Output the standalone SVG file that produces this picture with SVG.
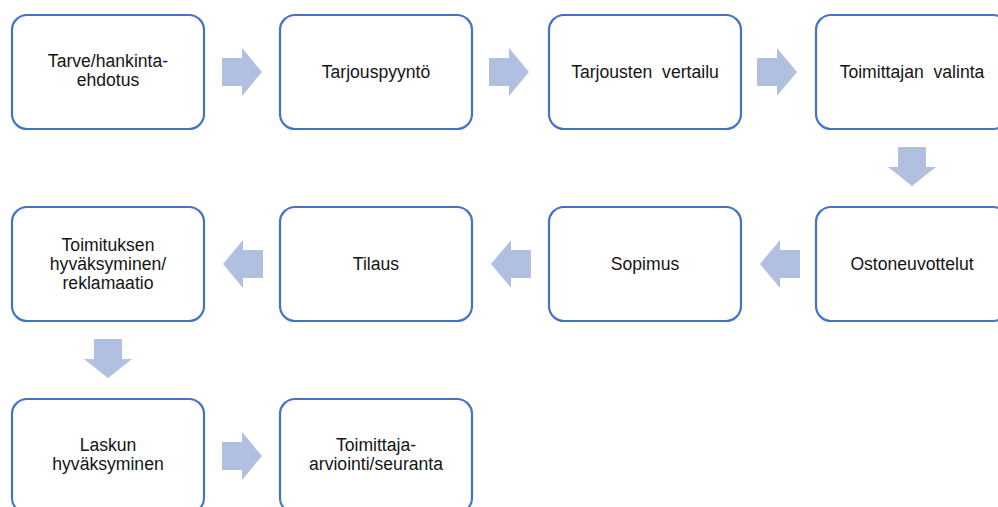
<svg xmlns="http://www.w3.org/2000/svg" width="998" height="507" viewBox="0 0 998 507">
  <defs>
    <style>
      .box { fill: #ffffff; stroke: #4472C4; stroke-width: 2.2; }
      .lbl { font-family: "Liberation Sans", Arial, sans-serif; font-size: 17.6px; fill: #151515; text-anchor: middle; }
      .arw { fill: #B1BFE1; }
    </style>
    <!-- block arrows, 40 long, 48 wide at the head, 28 wide shaft -->
    <path id="arrowRight" d="M0,-14 H20 V-24 L40,0 L20,24 V14 H0 Z"/>
    <path id="arrowLeft" d="M40,-14 H20 V-24 L0,0 L20,24 V14 H40 Z"/>
    <path id="arrowDown" d="M-14,0 V20 H-24 L0,39 L24,20 H14 V0 Z"/>
  </defs>
  <rect width="998" height="507" fill="#ffffff"/>

  <!-- row 1 -->
  <g id="tarve">
    <rect class="box" x="12" y="15" width="192" height="114" rx="15"/>
    <text class="lbl" x="108" y="67">Tarve/hankinta-</text>
    <text class="lbl" x="108" y="86">ehdotus</text>
  </g>
  <g id="tarjouspyynto">
    <rect class="box" x="280" y="15" width="192" height="114" rx="15"/>
    <text class="lbl" x="376" y="78">Tarjouspyyntö</text>
  </g>
  <g id="vertailu">
    <rect class="box" x="549" y="15" width="192" height="114" rx="15"/>
    <text class="lbl" x="645" y="78" xml:space="preserve">Tarjousten  vertailu</text>
  </g>
  <g id="valinta">
    <rect class="box" x="816" y="15" width="192" height="114" rx="15"/>
    <text class="lbl" x="912" y="78" xml:space="preserve">Toimittajan  valinta</text>
  </g>

  <!-- row 2 -->
  <g id="ostoneuvottelut">
    <rect class="box" x="816" y="207" width="192" height="114" rx="15"/>
    <text class="lbl" x="912" y="270">Ostoneuvottelut</text>
  </g>
  <g id="sopimus">
    <rect class="box" x="549" y="207" width="192" height="114" rx="15"/>
    <text class="lbl" x="645" y="270">Sopimus</text>
  </g>
  <g id="tilaus">
    <rect class="box" x="280" y="207" width="192" height="114" rx="15"/>
    <text class="lbl" x="376" y="270">Tilaus</text>
  </g>
  <g id="toimitus">
    <rect class="box" x="12" y="207" width="192" height="114" rx="15"/>
    <text class="lbl" x="108" y="251">Toimituksen</text>
    <text class="lbl" x="108" y="270">hyväksyminen/</text>
    <text class="lbl" x="108" y="289">reklamaatio</text>
  </g>

  <!-- row 3 -->
  <g id="lasku">
    <rect class="box" x="12" y="399" width="192" height="114" rx="15"/>
    <text class="lbl" x="108" y="451">Laskun</text>
    <text class="lbl" x="108" y="470">hyväksyminen</text>
  </g>
  <g id="arviointi">
    <rect class="box" x="280" y="399" width="192" height="114" rx="15"/>
    <text class="lbl" x="376" y="451">Toimittaja-</text>
    <text class="lbl" x="376" y="470">arviointi/seuranta</text>
  </g>

  <!-- connectors -->
  <g id="connectors" class="arw">
    <use href="#arrowRight" x="222" y="72"/>
    <use href="#arrowRight" x="489" y="72"/>
    <use href="#arrowRight" x="757" y="72"/>
    <use href="#arrowDown" x="912" y="147"/>
    <use href="#arrowLeft" x="760" y="264"/>
    <use href="#arrowLeft" x="491" y="264"/>
    <use href="#arrowLeft" x="223" y="264"/>
    <use href="#arrowDown" x="108" y="339"/>
    <use href="#arrowRight" x="222" y="456"/>
  </g>
</svg>
